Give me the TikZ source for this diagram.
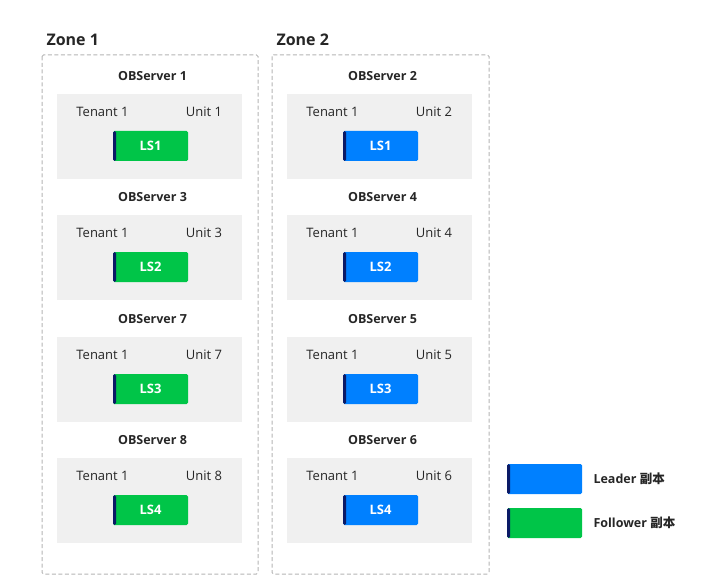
\documentclass[tikz,border=0pt]{standalone}
\usepackage{fontspec}
\setmainfont{Open Sans}
\newfontfamily\cjk{Noto Sans CJK SC}
\definecolor{zonegray}{HTML}{B4B4B4}
\definecolor{srvgray}{HTML}{F0F0F0}
\definecolor{lsgreen}{HTML}{00C548}
\definecolor{lsblue}{HTML}{0080FF}
\definecolor{lsnavy}{HTML}{0B1A66}
\definecolor{txt}{HTML}{262626}
\begin{document}
\begin{tikzpicture}[x=1pt,y=-1pt,
  zonebox/.style={draw=zonegray, line width=1pt, dash pattern=on 4pt off 2.5pt, rounded corners=1.5pt},
  zonelabel/.style={anchor=west, font=\fontsize{16}{18}\selectfont\bfseries, text=txt},
  srvbox/.style={fill=srvgray, minimum width=185pt, minimum height=85pt, inner sep=0pt},
  srvlabel/.style={font=\fontsize{12.5}{14}\selectfont\bfseries, text=txt},
  plain/.style={font=\fontsize{13}{15}\selectfont, text=txt},
  lsbox/.style={fill=#1, rounded corners=1.5pt, minimum width=75pt, minimum height=30pt, inner sep=0pt,
    text=white, font=\fontsize{13}{15}\selectfont\bfseries,
    path picture={\fill[lsnavy] (path picture bounding box.south west) rectangle ([xshift=3pt]path picture bounding box.north west);}},
  legendtext/.style={anchor=west, font=\fontsize{12.5}{14}\selectfont\bfseries, text=txt}
]
\useasboundingbox (0,0) rectangle (709,588);
% zones
\draw[zonebox] (42,55) rectangle (258,574);
\draw[zonebox] (272,55) rectangle (489,574);
\node[zonelabel] (zl1) at (43,40) {Zone 1};
\node[zonelabel] (zl2) at (273,40) {Zone 2};
% servers zone 1
\foreach \i/\srv/\unit/\ls/\top in {1/1/1/LS1/94, 2/3/3/LS2/215, 3/7/7/LS3/337, 4/8/8/LS4/458}{
  \node[srvbox] (za\i) at (149.5,\top+42.5) {};
  \node[srvlabel] (zat\i) at (152.5,\top-17.5) {OBServer \srv};
  \node[plain] (zaten\i) at (102.5,\top+17.5) {Tenant 1};
  \node[plain] (zaun\i) at (204,\top+17.5) {Unit \unit};
  \node[lsbox=lsgreen] (zals\i) at (150.5,\top+52) {\ls};
}
% servers zone 2
\foreach \i/\srv/\unit/\ls/\top in {1/2/2/LS1/94, 2/4/4/LS2/215, 3/5/5/LS3/337, 4/6/6/LS4/458}{
  \node[srvbox] (zb\i) at (379.5,\top+42.5) {};
  \node[srvlabel] (zbt\i) at (382.5,\top-17.5) {OBServer \srv};
  \node[plain] (zbten\i) at (332.5,\top+17.5) {Tenant 1};
  \node[plain] (zbun\i) at (434,\top+17.5) {Unit \unit};
  \node[lsbox=lsblue] (zbls\i) at (380.5,\top+52) {\ls};
}
% legend
\node[lsbox=lsblue] (legL) at (544.5,479) {};
\node[lsbox=lsgreen] (legF) at (544.5,523) {};
\node[legendtext] (legLt) at (590,479) {Leader {\cjk\bfseries 副本}};
\node[legendtext] (legFt) at (590,523) {Follower {\cjk\bfseries 副本}};
\end{tikzpicture}
\end{document}
